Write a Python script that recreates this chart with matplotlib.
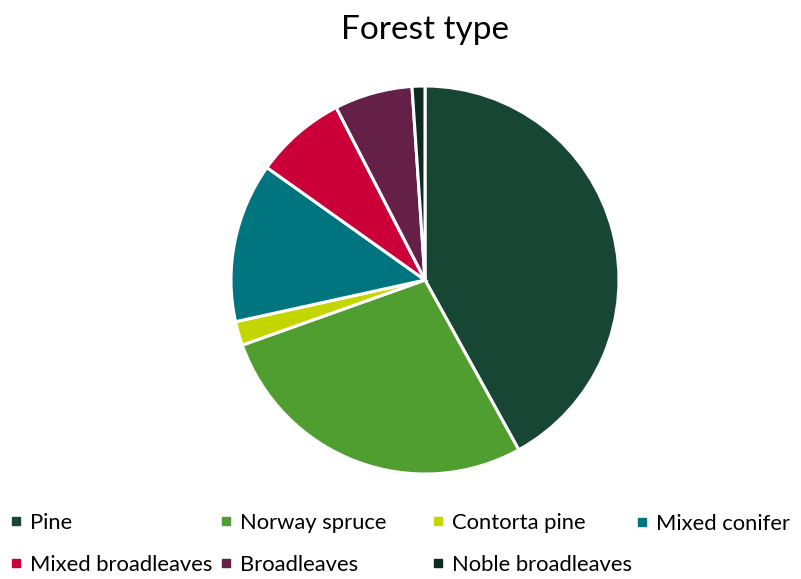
import matplotlib
matplotlib.use("Agg")
import matplotlib.pyplot as plt
from matplotlib.lines import Line2D

plt.rcParams['font.family'] = ['Lato', 'DejaVu Sans']

categories = ["Pine", "Norway spruce", "Contorta pine", "Mixed conifer",
              "Mixed broadleaves", "Broadleaves", "Noble broadleaves"]
values = [42.0, 27.6, 2.0, 13.3, 7.6, 6.5, 1.07]
colors = ["#174734", "#509E2F", "#C4D600", "#00757F",
          "#CC0039", "#642046", "#0E2B1F"]

W, H = 801, 579
fig = plt.figure(figsize=(W / 100, H / 100), dpi=100)

cx, cy, r = 425, 280, 194
ax = fig.add_axes([(cx - r) / W, (H - cy - r) / H, 2 * r / W, 2 * r / H])
wedges, _ = ax.pie(values, colors=colors, startangle=90, counterclock=False,
                   radius=1, wedgeprops=dict(edgecolor="white", linewidth=2.2))
ax.set_xlim(-1, 1)
ax.set_ylim(-1, 1)
ax.set_aspect("equal")
ax.axis("off")

fig.text(cx / W, 1 - 30 / H, "Forest type", ha="center", va="center",
         fontsize=24, color="#000000")

handles = [Line2D([0], [0], marker="s", linestyle="none", markersize=5.5,
                  markerfacecolor=c, markeredgecolor=c) for c in colors]

# legend columns (Excel-like equal widths)
cols = [[0, 4], [1, 5], [2, 6], [3]]
col_x = [10, 220, 432, 636]
for ci, idxs in enumerate(cols):
    n = len(idxs)
    yc = 544 if n == 2 else 524
    leg = fig.legend([handles[i] for i in idxs], [categories[i] for i in idxs],
                     loc="center left", bbox_to_anchor=(col_x[ci] / W, 1 - yc / H),
                     frameon=False, fontsize=15.8, handlelength=0.55,
                     handletextpad=0.35, borderpad=0, borderaxespad=0,
                     labelspacing=1.0)

fig.savefig("out.png", dpi=100)
